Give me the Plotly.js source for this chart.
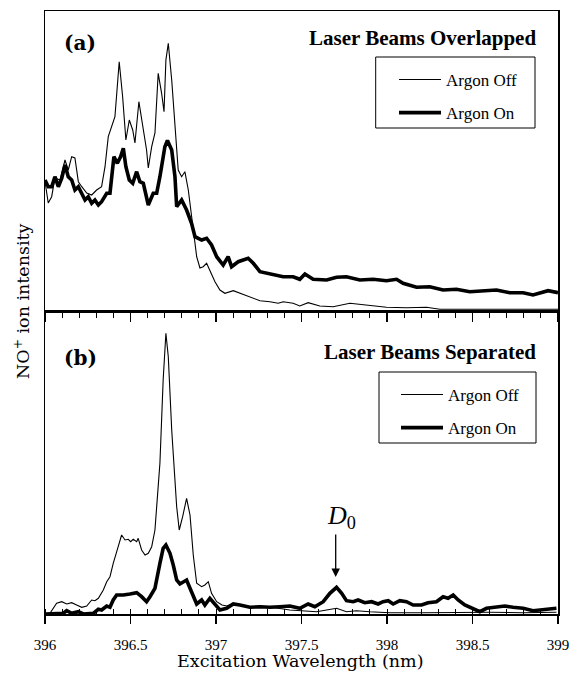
<!DOCTYPE html>
<html>
<head>
<meta charset="utf-8">
<script src="https://cdn.plot.ly/plotly-3.0.1.min.js"></script>
<style>html,body{margin:0;padding:0;background:#fff;}#chart{width:572px;height:674px;}</style>
</head>
<body>
<div id="chart"></div>
<script>
// ---- Panel (a): Laser Beams Overlapped ----
const aOffX = [396.000,396.019,396.039,396.058,396.088,396.117,396.136,396.156,396.175,396.195,396.215,396.244,396.273,396.302,396.331,396.351,396.370,396.390,396.409,396.434,396.454,396.473,396.493,396.513,396.526,396.549,396.575,396.594,396.604,396.624,396.643,396.662,396.682,396.696,396.707,396.721,396.741,396.760,396.779,396.799,396.818,396.838,396.857,396.867,396.887,396.906,396.925,396.945,396.964,396.994,397.023,397.052,397.101,397.140,397.198,397.257,397.315,397.364,397.393,397.451,397.490,397.539,397.607,397.685,397.783,397.880,397.997,398.114,398.231,398.309,398.465,398.659,398.854,399.000];
const aOffY = [129.3,108,114.3,133,131,151,141,154.3,153,129.3,124.3,118,116,121,124.3,144.3,174.3,184.3,194.3,249.3,214.3,171,191,181,168,209.3,181,161,143,164.3,178,237.7,217.7,199.3,251,267.7,231,184.3,141,134.3,139.3,121,94.3,78,54.3,43,44.3,47.7,41,29.3,21,17.7,20.3,17.7,14.3,10.3,9.3,7.7,9.3,7.7,5,8.3,5,4.3,7.7,5.7,3.7,3.3,3.7,1.7,1.7,2,1.7,1.7];
const aOnX = [396.000,396.019,396.039,396.058,396.078,396.098,396.117,396.136,396.156,396.175,396.195,396.215,396.234,396.253,396.273,396.292,396.312,396.331,396.361,396.380,396.403,396.423,396.442,396.458,396.473,396.493,396.513,396.536,396.555,396.575,396.604,396.633,396.653,396.672,396.701,396.716,396.741,396.760,396.770,396.799,396.828,396.857,396.877,396.916,396.945,396.974,397.004,397.042,397.071,397.091,397.130,397.188,397.218,397.257,397.296,397.344,397.393,397.451,397.490,397.520,397.568,397.647,397.705,397.763,397.841,397.919,397.997,398.056,398.094,398.173,398.250,398.328,398.406,398.484,398.562,398.640,398.718,398.796,398.854,398.942,399.000];
const aOnY = [131,124.3,124.3,134.3,124.3,132.7,146,134.3,131,121,124.3,117.7,111,114.3,107.7,111,106,109.3,117.7,117.7,154.3,147.7,154.3,162.7,144.3,131,127.7,139.3,129.3,127.7,106,117.7,117.7,134.3,164.3,170.5,161,134.3,104.3,111,101,87.7,74.3,71,72.7,66,54.3,46,54.3,44.3,49.3,52.7,47.7,39.3,37.7,36,34.3,34.3,31.7,37,31.7,31,33.7,34.3,31,31.7,30.3,31.7,27.7,23.7,24.3,21,21.7,19.3,20.3,21,18.3,18.3,16,20.3,18.3];

// ---- Panel (b): Laser Beams Separated ----
const bOffX = [396.010,396.029,396.068,396.098,396.127,396.156,396.185,396.215,396.244,396.273,396.292,396.312,396.341,396.361,396.380,396.399,396.428,396.448,396.468,396.487,396.501,396.516,396.536,396.545,396.565,396.585,396.604,396.624,396.643,396.656,396.672,396.691,396.707,396.721,396.741,396.770,396.785,396.805,396.828,396.848,396.867,396.887,396.916,396.935,396.955,396.974,397.004,397.035,397.064,397.101,397.140,397.179,397.257,397.344,397.432,397.510,397.588,397.647,397.705,397.763,397.822,397.900,398.016,398.211,398.406,398.601,398.796,398.991];
const bOffY = [0,0.7,10.7,12.3,10,11.3,9,6.7,8,14,13.3,15.7,24,32.3,37.3,50.7,67.3,79,74,74.7,72.3,74.7,72.3,75.7,64,59,60.7,67.3,84,114,150.7,234,280.7,257.3,184,107.3,84,97.3,115.7,99,59,30.7,27.3,29,32.3,20.7,12.3,9,8,10.7,9,7.3,6.7,6.3,4,3.3,2.3,4,5.7,2.3,3.3,2.3,1.3,1.3,1.7,1.7,1.3,1.7];
const bOnX = [396.000,396.107,396.127,396.156,396.195,396.224,396.282,396.312,396.331,396.361,396.380,396.399,396.419,396.458,396.497,396.536,396.565,396.594,396.614,396.643,396.672,396.691,396.707,396.731,396.750,396.770,396.789,396.808,396.828,396.848,396.867,396.887,396.916,396.935,396.964,396.994,397.023,397.062,397.101,397.140,397.198,397.257,397.315,397.373,397.432,397.490,397.539,397.578,397.627,397.666,397.705,397.735,397.763,397.802,397.831,397.870,397.910,397.948,397.977,398.007,398.036,398.075,398.114,398.153,398.202,398.240,398.289,398.328,398.357,398.387,398.416,398.455,398.503,398.543,398.582,398.640,398.689,398.737,398.796,398.854,398.912,398.991];
const bOnY = [0,0.7,3.3,0.7,2.3,0,0.7,4.7,4,8,6.7,14,19,19,20,21.3,17.3,12.3,17.3,25.7,50.7,65.7,69,60.7,49,34,30,32.3,34,25.7,17,10,14,9,15.7,9,4,5.7,10,9,6.7,7.3,6.7,7.3,8,5.7,10,7.3,12.3,20.7,26.7,20.7,13.3,12.3,14,11.3,12.3,10,12.3,13.3,10,13.3,12.3,9,9,11.3,12.3,17.3,15.7,19,14,9,5.7,2.3,5.7,6.7,8,6.7,5.7,3.3,4.7,5.7];

// ---- Text / ticks ----
const tickVals = [396,396.5,397,397.5,398,398.5,399];
const tickText = ['396','396.5','397','397.5','398','398.5','399'];
const seriesNames = ['Argon Off','Argon On'];
const panelLabels = ['(a)','(b)'];
const panelTitles = ['Laser Beams Overlapped','Laser Beams Separated'];
const xTitle = 'Excitation Wavelength (nm)';
const yTitle = 'NO<sup>+</sup> ion intensity';
const markerX = 397.7, markerY = 37;

const SERIF = 'Liberation Serif, Times New Roman, serif';
const WIDE = 'DejaVu Serif, serif';
const thin = {color:'#000', width:1.1};
const thick = {color:'#000', width:3.6};

const traces = [
  {x:aOffX, y:aOffY, xaxis:'x2', yaxis:'y2', mode:'lines', line:thin, name:seriesNames[0], legend:'legend', legendgroup:'a1'},
  {x:aOnX, y:aOnY, xaxis:'x2', yaxis:'y2', mode:'lines', line:thick, name:seriesNames[1], legend:'legend', legendgroup:'a2'},
  {x:bOffX, y:bOffY, xaxis:'x', yaxis:'y', mode:'lines', line:thin, name:seriesNames[0], legend:'legend2', legendgroup:'b1'},
  {x:bOnX, y:bOnY, xaxis:'x', yaxis:'y', mode:'lines', line:thick, name:seriesNames[1], legend:'legend2', legendgroup:'b2'}
];

const PX = v => (v-45)/513;      // page x -> paper x
const PY = v => (614-v)/603;     // page y -> paper y
const split = 303/603;
const axCommon = {showgrid:false, zeroline:false, showline:true, mirror:true, linecolor:'#000', linewidth:1.5};
const legCommon = {font:{family:SERIF, size:17, color:'#000'}, bgcolor:'rgba(0,0,0,0)', borderwidth:0, xanchor:'left', yanchor:'top', tracegroupgap:8, itemwidth:42};

const layout = {
  width:572, height:674,
  margin:{l:45, r:14, t:11, b:60, pad:0},
  paper_bgcolor:'#fff', plot_bgcolor:'#fff',
  font:{family:SERIF, color:'#000'},
  xaxis: Object.assign({}, axCommon, {domain:[0,1], anchor:'y', range:[396,399],
    tickmode:'array', tickvals:tickVals, ticktext:tickText, ticks:'outside', ticklen:8, tickwidth:1.2, tickcolor:'#000',
    ticklabelstandoff:8,
    minor:{dtick:0.1, ticks:'inside', ticklen:5, tickwidth:1, tickcolor:'#000', showgrid:false},
    tickfont:{family:SERIF, size:15}}),
  yaxis: Object.assign({}, axCommon, {domain:[0,split], anchor:'x', range:[0,303], showticklabels:false, ticks:''}),
  xaxis2: Object.assign({}, axCommon, {domain:[0,1], anchor:'y2', matches:'x', range:[396,399], showticklabels:false,
    tickmode:'array', tickvals:tickVals, ticks:'outside', ticklen:9, tickwidth:1.2, tickcolor:'#000',
    minor:{dtick:0.1, ticks:'outside', ticklen:5, tickwidth:1, tickcolor:'#000', showgrid:false}}),
  yaxis2: Object.assign({}, axCommon, {domain:[split,1], anchor:'x2', range:[0,300], showticklabels:false, ticks:''}),
  legend: Object.assign({}, legCommon, {x:PX(394), y:PY(62)}),
  legend2: Object.assign({}, legCommon, {x:PX(396), y:PY(377)}),
  shapes:[
    {type:'rect', xref:'paper', yref:'paper', x0:PX(375.7), x1:PX(535), y0:PY(128), y1:PY(57), line:{color:'#000', width:1}},
    {type:'rect', xref:'paper', yref:'paper', x0:PX(379), x1:PX(536), y0:PY(443), y1:PY(372), line:{color:'#000', width:1}}
  ],
  annotations:[
    {xref:'paper', yref:'paper', x:PX(300), y:PY(673), xanchor:'center', yanchor:'bottom', text:xTitle, showarrow:false, font:{family:WIDE, size:17.5}},
    {xref:'paper', yref:'paper', x:PX(22), y:PY(301), xanchor:'center', yanchor:'middle', textangle:-90, text:yTitle, showarrow:false, font:{family:WIDE, size:17.5}},
    {xref:'paper', yref:'paper', x:PX(62), y:PY(43), xanchor:'left', yanchor:'middle', text:'<b>'+panelLabels[0]+'</b>', showarrow:false, font:{family:WIDE, size:20}},
    {xref:'paper', yref:'paper', x:PX(62), y:PY(358), xanchor:'left', yanchor:'middle', text:'<b>'+panelLabels[1]+'</b>', showarrow:false, font:{family:WIDE, size:20}},
    {xref:'paper', yref:'paper', x:PX(538), y:PY(38), xanchor:'right', yanchor:'middle', text:'<b>'+panelTitles[0]+'</b>', showarrow:false, font:{family:SERIF, size:21}},
    {xref:'paper', yref:'paper', x:PX(538), y:PY(352), xanchor:'right', yanchor:'middle', text:'<b>'+panelTitles[1]+'</b>', showarrow:false, font:{family:SERIF, size:21}},
    {xref:'x', yref:'y', x:markerX, y:markerY, text:'', showarrow:true, ax:0, ay:-44, arrowhead:2, arrowsize:1.3, arrowwidth:1.3, arrowcolor:'#000', standoff:0},
    {xref:'x', yref:'y', x:markerX, y:markerY, xshift:6, yshift:60, text:'<i>D</i><sub>0</sub>', showarrow:false, font:{family:SERIF, size:26}}
  ]
};

Plotly.newPlot('chart', traces, layout, {staticPlot:true, displayModeBar:false});
</script>
</body>
</html>
